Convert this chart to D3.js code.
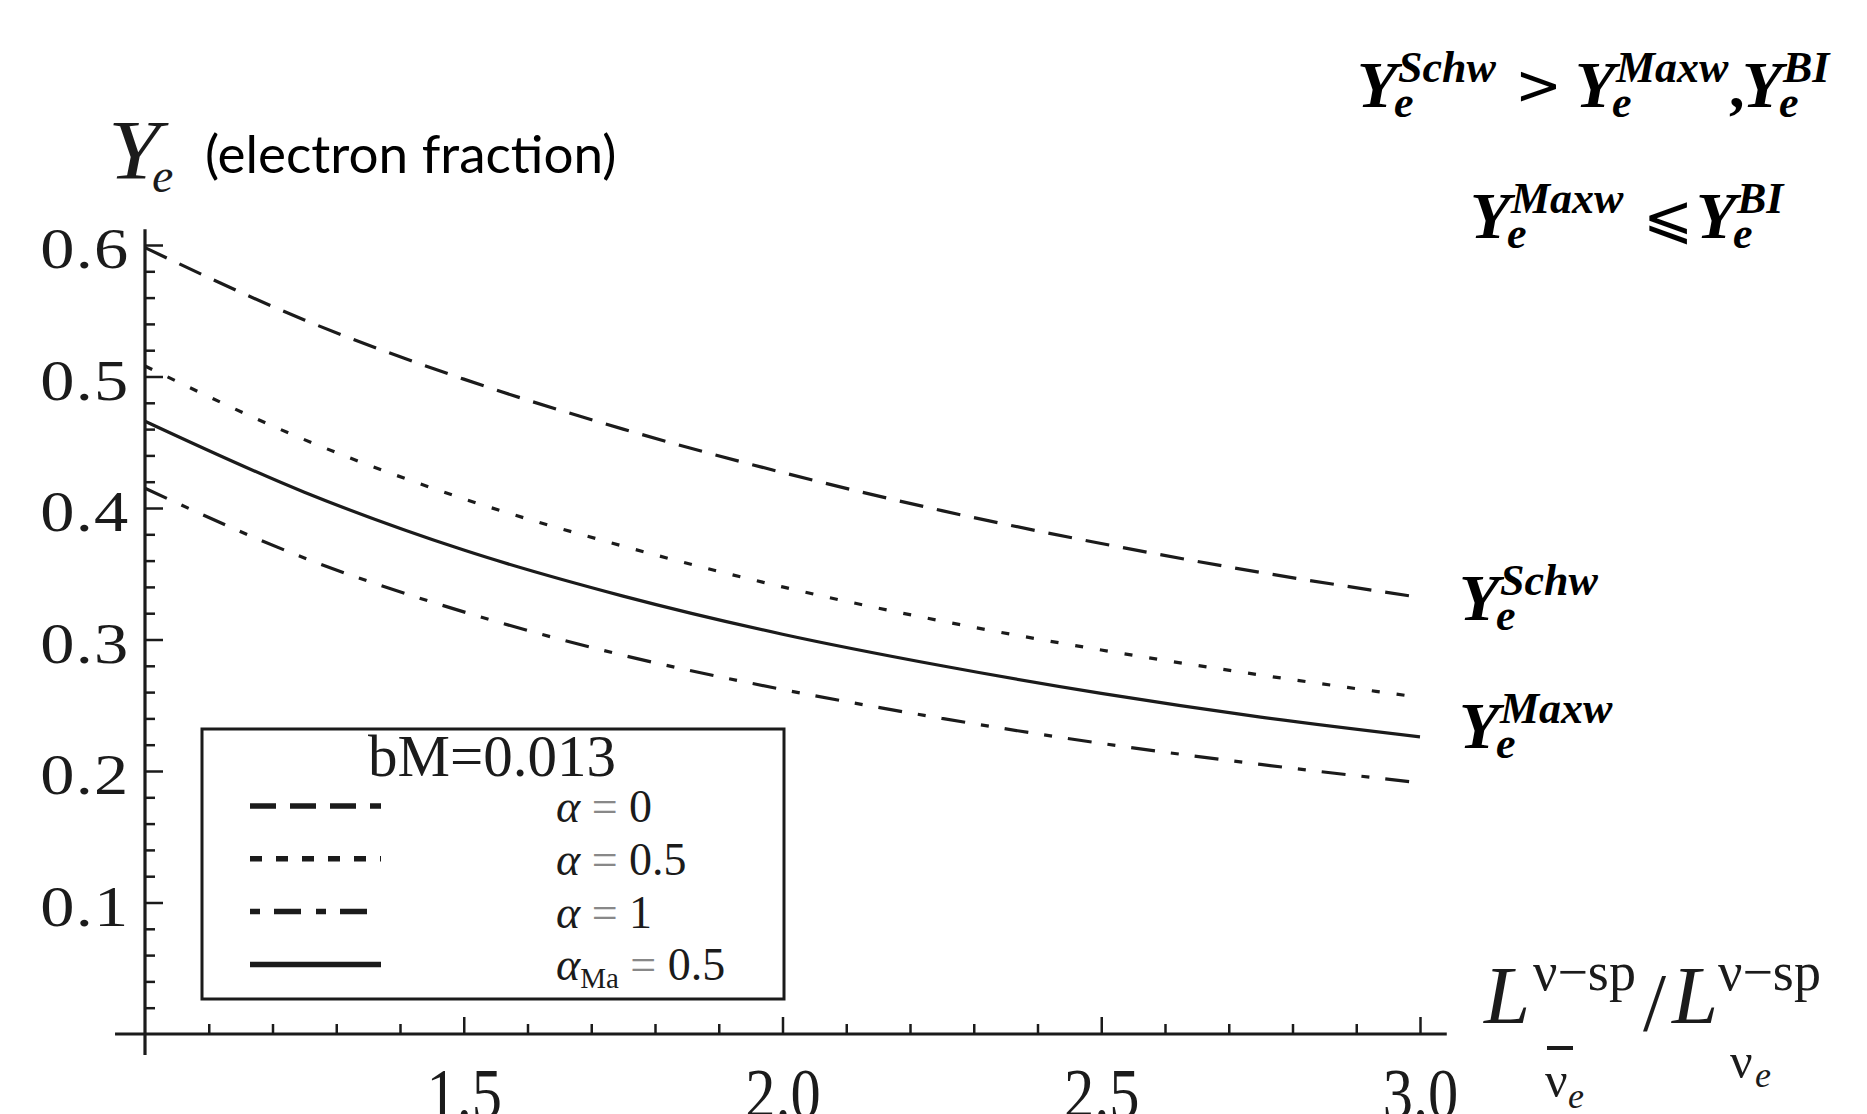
<!DOCTYPE html>
<html>
<head>
<meta charset="utf-8">
<script src="https://cdn.jsdelivr.net/npm/d3@7"></script>
<style>
  body { margin: 0; background: #fff; }
</style>
</head>
<body>
<div id="chart"></div>
<script>
// luminosity ratio L(anti-nu_e) / L(nu_e)
const ratios = [1.0, 1.25, 1.5, 1.75, 2.0, 2.25, 2.5, 2.75, 3.0];
// electron fraction
const yeAlpha0 = [0.598, 0.543, 0.498, 0.460, 0.427, 0.398, 0.373, 0.351, 0.332];
const yeAlpha05 = [0.508, 0.452, 0.407, 0.371, 0.340, 0.314, 0.292, 0.273, 0.256];
const yeAlpha1 = [0.415, 0.362, 0.321, 0.288, 0.262, 0.240, 0.221, 0.205, 0.191];
const yeMaxw = [0.466, 0.412, 0.368, 0.333, 0.304, 0.280, 0.259, 0.241, 0.226];

const seriesNames = ["α = 0", "α = 0.5", "α = 1", "αMa = 0.5"];
const yTicks = [0.1, 0.2, 0.3, 0.4, 0.5, 0.6];
const xTicks = [1.5, 2.0, 2.5, 3.0];
const legendTitle = "bM=0.013";

const width = 1867;
const height = 1114;
const ink = "#1b1b1b";
const serif = "'Liberation Serif', 'Times New Roman', serif";

const svg = d3.select("#chart").append("svg")
  .attr("width", width)
  .attr("height", height)
  .style("display", "block");

const x = d3.scaleLinear().domain([1, 3]).range([145, 1420]);
const y = d3.scaleLinear().domain([0, 0.6]).range([1034, 245]);

// series table (dash patterns per curve)
const series = [
  { name: seriesNames[0], values: yeAlpha0, dash: "24,14", legendDash: "26,14" },
  { name: seriesNames[1], values: yeAlpha05, dash: "8,17", legendDash: "12,14" },
  { name: seriesNames[2], values: yeAlpha1, dash: "24,16,8,16", legendDash: "10,14,27,15" },
  { name: seriesNames[3], values: yeMaxw, dash: null, legendDash: null }
];

// ---- axes ----
const xMinor = d3.range(11, 31).map(d => d / 10).filter(d => !xTicks.some(t => Math.abs(t - d) < 1e-6));
const yMinor = d3.range(1, 31).map(d => d / 50).filter(d => !yTicks.some(t => Math.abs(t - d) < 1e-6));

svg.append("g")
  .attr("transform", `translate(0,${y(0)})`)
  .call(d3.axisBottom(x).tickValues(xMinor).tickSize(-10).tickFormat(""))
  .call(g => g.select(".domain").remove())
  .call(g => g.selectAll("line").attr("stroke", ink).attr("stroke-width", 2.5));

svg.append("g")
  .attr("transform", `translate(0,${y(0)})`)
  .call(d3.axisBottom(x).tickValues(xTicks).tickSize(-17).tickPadding(0).tickFormat(d3.format(".1f")))
  .call(g => g.select(".domain").remove())
  .call(g => g.selectAll("line").attr("stroke", ink).attr("stroke-width", 2.5))
  .call(g => g.selectAll("text")
    .attr("y", 84)
    .attr("dy", null)
    .attr("fill", ink)
    .attr("font-family", serif)
    .attr("font-size", 72)
    .attr("transform", "scale(0.84,1)"));

svg.append("g")
  .attr("transform", `translate(${x(1)},0)`)
  .call(d3.axisLeft(y).tickValues(yMinor).tickSize(-10).tickFormat(""))
  .call(g => g.select(".domain").remove())
  .call(g => g.selectAll("line").attr("stroke", ink).attr("stroke-width", 2.5));

svg.append("g")
  .attr("transform", `translate(${x(1)},0)`)
  .call(d3.axisLeft(y).tickValues(yTicks).tickSize(-18).tickPadding(13).tickFormat(d3.format(".1f")))
  .call(g => g.select(".domain").remove())
  .call(g => g.selectAll("line").attr("stroke", ink).attr("stroke-width", 2.5))
  .call(g => g.selectAll("text")
    .attr("dy", "0.4em")
    .attr("fill", ink)
    .attr("font-family", serif)
    .attr("font-size", 57)
    .attr("letter-spacing", 1)
    .attr("transform", "scale(1.2,1)"));

// axis lines
svg.append("line")
  .attr("x1", x(0.953)).attr("x2", x(3.042))
  .attr("y1", y(0)).attr("y2", y(0))
  .attr("stroke", ink).attr("stroke-width", 3.2);
svg.append("line")
  .attr("x1", x(1)).attr("x2", x(1))
  .attr("y1", y(-0.016)).attr("y2", y(0.612))
  .attr("stroke", ink).attr("stroke-width", 3.2);

// ---- curves ----
const line = d3.line()
  .x((d, i) => x(ratios[i]))
  .y(d => y(d))
  .curve(d3.curveMonotoneX);

svg.append("g")
  .selectAll("path")
  .data(series)
  .join("path")
  .attr("fill", "none")
  .attr("stroke", ink)
  .attr("stroke-width", 3.2)
  .attr("stroke-dasharray", d => d.dash)
  .attr("d", d => line(d.values));

// ---- legend ----
const legend = svg.append("g");
legend.append("rect")
  .attr("x", 202).attr("y", 729)
  .attr("width", 582).attr("height", 270)
  .attr("fill", "#fff")
  .attr("stroke", ink)
  .attr("stroke-width", 3);

legend.append("text")
  .attr("x", 492).attr("y", 776)
  .attr("text-anchor", "middle")
  .attr("font-family", serif)
  .attr("font-size", 59)
  .attr("fill", ink)
  .text(legendTitle);

const rowY = i => 806 + i * 52.8;
legend.selectAll("line.key")
  .data(series)
  .join("line")
  .attr("class", "key")
  .attr("x1", 250).attr("x2", 381)
  .attr("y1", (d, i) => rowY(i)).attr("y2", (d, i) => rowY(i))
  .attr("stroke", ink)
  .attr("stroke-width", 5.5)
  .attr("stroke-dasharray", d => d.legendDash);

series.forEach((s, i) => {
  const t = legend.append("text")
    .attr("x", 556).attr("y", rowY(i) + 16)
    .attr("font-family", serif)
    .attr("font-size", 46)
    .attr("fill", ink);
  const m = s.name.match(/^α(\w*) = (.*)$/);
  t.append("tspan").attr("font-style", "italic").text("α");
  if (m[1]) {
    t.append("tspan").attr("font-size", 29).attr("dy", 8).text(m[1]);
    t.append("tspan").attr("dy", -8).attr("fill", "#888").text(" = ");
  } else {
    t.append("tspan").attr("fill", "#888").text(" = ");
  }
  t.append("tspan").text(m[2]);
});

// ---- Y_e with super/subscript (bold italic math) ----
function yeLabel(xPos, base, sup) {
  const t = svg.append("text")
    .attr("font-family", serif)
    .attr("font-style", "italic")
    .attr("font-weight", "bold")
    .attr("fill", "#000");
  t.append("tspan").attr("x", xPos).attr("y", base).attr("font-size", 66).text("Y");
  t.append("tspan").attr("x", xPos + 41).attr("y", base - 25).attr("font-size", 44).text(sup);
  t.append("tspan").attr("x", xPos + 37).attr("y", base + 10).attr("font-size", 44).text("e");
}
function mathSym(xPos, base, s, size) {
  svg.append("text")
    .attr("x", xPos).attr("y", base)
    .attr("font-family", "'DejaVu Sans', sans-serif")
    .attr("font-size", size)
    .attr("fill", "#000")
    .text(s);
}

// curve end labels
yeLabel(1459, 620, "Schw");
yeLabel(1459, 748, "Maxw");

// top-right relations
yeLabel(1357, 107, "Schw");
mathSym(1515, 104, ">", 56);
yeLabel(1575, 107, "Maxw");
svg.append("text").attr("x", 1729).attr("y", 107)
  .attr("font-family", serif).attr("font-weight", "bold").attr("font-size", 62).text(",");
yeLabel(1742, 107, "BI");

yeLabel(1470, 238, "Maxw");
mathSym(1643, 237, "⩽", 60);
yeLabel(1696, 238, "BI");

// ---- y axis title ----
svg.append("text")
  .attr("x", 108).attr("y", 179)
  .attr("font-family", serif).attr("font-style", "italic")
  .attr("font-size", 84).attr("fill", ink)
  .attr("transform", "translate(108,0) scale(1.12,1) translate(-108,0)")
  .text("Y");
svg.append("text")
  .attr("x", 152).attr("y", 192)
  .attr("font-family", serif).attr("font-style", "italic")
  .attr("font-size", 48).attr("fill", ink)
  .text("e");
svg.append("text")
  .attr("x", 205).attr("y", 173)
  .attr("font-family", "Lato, 'Open Sans', sans-serif")
  .attr("font-size", 53).attr("fill", "#000")
  .text("(electron fraction)");

// ---- x axis title: L^{nu-bar_e - sp} / L^{nu_e - sp} ----
const xt = svg.append("g").attr("font-family", serif).attr("fill", ink);
xt.append("text").attr("x", 1484).attr("y", 1023).attr("font-size", 83).attr("font-style", "italic").text("L");
xt.append("text").attr("x", 1533).attr("y", 990).attr("font-size", 54).text("ν−sp");
xt.append("line").attr("x1", 1547).attr("x2", 1573).attr("y1", 1048).attr("y2", 1048)
  .attr("stroke", ink).attr("stroke-width", 4);
xt.append("text").attr("x", 1545).attr("y", 1097).attr("font-size", 50).text("ν");
xt.append("text").attr("x", 1568).attr("y", 1108).attr("font-size", 36).attr("font-style", "italic").text("e");
xt.append("text").attr("x", 1643).attr("y", 1030).attr("font-size", 83).text("/");
xt.append("text").attr("x", 1672).attr("y", 1023).attr("font-size", 83).attr("font-style", "italic").text("L");
xt.append("text").attr("x", 1718).attr("y", 990).attr("font-size", 54).text("ν−sp");
xt.append("text").attr("x", 1730).attr("y", 1078).attr("font-size", 50).text("ν");
xt.append("text").attr("x", 1755).attr("y", 1087).attr("font-size", 36).attr("font-style", "italic").text("e");
</script>
</body>
</html>
